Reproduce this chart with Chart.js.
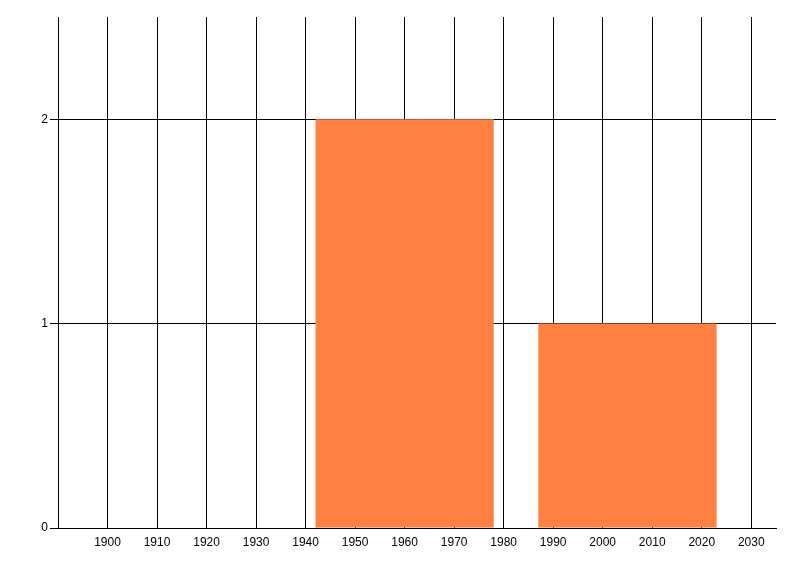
<!DOCTYPE html>
<html>
<head>
<meta charset="utf-8">
<script src="https://cdn.jsdelivr.net/npm/chart.js@4/dist/chart.umd.min.js"></script>
<style>
  html, body { margin: 0; padding: 0; background: #fff; }
  #wrap { width: 800px; height: 576px; position: relative; }
</style>
</head>
<body>
<div id="wrap"><canvas id="chart"></canvas></div>
<script>
// ---------- data ----------
const barYears = [1960, 2005];
const barCounts = [2, 1];
const xTickYears = [1900, 1910, 1920, 1930, 1940, 1950, 1960, 1970, 1980, 1990, 2000, 2010, 2020, 2030];
const yTickValues = [0, 1, 2];
const xMin = 1890, xMax = 2035;
const yMin = 0, yMax = 2.5;

const barColor = 'rgb(255,128,64)';
const font = { family: "'Liberation Sans Narrow', 'Liberation Sans', Arial, sans-serif", size: 12 };

const ctx = document.getElementById('chart').getContext('2d');

new Chart(ctx, {
  type: 'bar',
  data: {
    datasets: [{
      data: barYears.map((x, i) => ({ x, y: barCounts[i] })),
      backgroundColor: barColor,
      borderWidth: 0,
      xAxisID: 'xb',
      categoryPercentage: 1,
      barPercentage: 0.8
    }]
  },
  options: {
    responsive: true,
    maintainAspectRatio: false,
    animation: false,
    layout: { padding: { top: 17, right: 24, left: 0, bottom: 0 } },
    plugins: { legend: { display: false }, tooltip: { enabled: false } },
    scales: {
      x: {
        type: 'linear',
        position: 'bottom',
        min: xMin, max: xMax,
        offset: false,
        afterBuildTicks: (s) => { s.ticks = xTickYears.map(v => ({ value: v })); },
        afterFit: (s) => { s.height = 48; },
        grid: { color: '#000', lineWidth: 1, drawTicks: false, offset: false },
        border: { display: true, color: '#000', width: 1 },
        ticks: { color: '#000', font, padding: 7, maxRotation: 0, autoSkip: false, callback: (v) => String(v) }
      },
      // hidden axis so bar width comes from spacing between the bars, not the decade ticks
      xb: {
        type: 'linear',
        position: 'bottom',
        display: false,
        min: xMin, max: xMax,
        offset: false,
        grid: { offset: false },
        afterBuildTicks: (s) => { s.ticks = barYears.map(v => ({ value: v })); }
      },
      y: {
        min: yMin, max: yMax,
        afterBuildTicks: (s) => { s.ticks = yTickValues.map(v => ({ value: v })); },
        afterFit: (s) => { s.width = 58; },
        grid: { color: '#000', lineWidth: 1, tickLength: 8 },
        border: { display: true, color: '#000', width: 1 },
        ticks: { color: '#000', font, padding: 2 }
      }
    }
  }
});
</script>
</body>
</html>
